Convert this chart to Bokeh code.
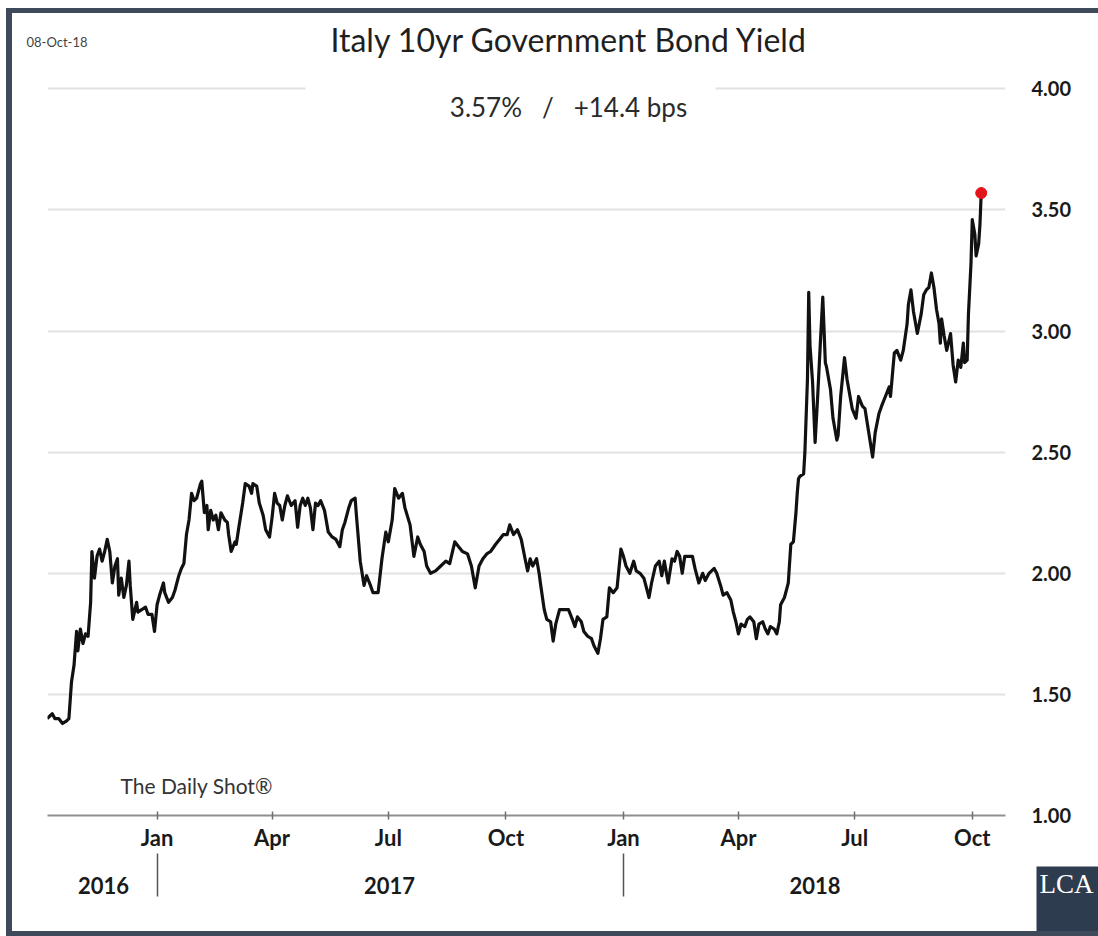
import pandas as pd
from bokeh.plotting import figure
from bokeh.models import (Range1d, FixedTicker, DatetimeAxis, DatetimeTickFormatter,
                          PrintfTickFormatter, Label, BoxAnnotation, ColumnDataSource, Title,
                          InlineStyleSheet)
from bokeh.embed import file_html
from bokeh.resources import INLINE

# ---------------- data ----------------
dates = [
    "2016-10-07", "2016-10-11", "2016-10-13", "2016-10-16", "2016-10-19", "2016-10-22", "2016-10-24", "2016-10-26", "2016-10-28", "2016-10-30", "2016-10-31",
    "2016-11-02", "2016-11-04", "2016-11-06", "2016-11-08", "2016-11-10", "2016-11-11", "2016-11-13", "2016-11-15", "2016-11-17", "2016-11-19", "2016-11-21", "2016-11-23", "2016-11-25", "2016-11-27", "2016-11-29",
    "2016-12-01", "2016-12-02", "2016-12-04", "2016-12-06", "2016-12-08", "2016-12-10", "2016-12-11", "2016-12-13", "2016-12-16", "2016-12-17", "2016-12-20", "2016-12-23", "2016-12-25", "2016-12-28", "2016-12-30",
    "2017-01-01", "2017-01-03", "2017-01-06", "2017-01-07", "2017-01-10", "2017-01-13", "2017-01-15", "2017-01-18", "2017-01-20", "2017-01-22", "2017-01-24", "2017-01-26", "2017-01-28", "2017-01-30",
    "2017-02-01", "2017-02-04", "2017-02-05", "2017-02-07", "2017-02-09", "2017-02-10", "2017-02-12", "2017-02-14", "2017-02-16", "2017-02-18", "2017-02-20", "2017-02-23", "2017-02-25", "2017-02-26", "2017-02-28",
    "2017-03-03", "2017-03-04", "2017-03-06", "2017-03-09", "2017-03-11", "2017-03-14", "2017-03-16", "2017-03-17", "2017-03-20", "2017-03-22", "2017-03-25", "2017-03-27", "2017-03-30",
    "2017-04-01", "2017-04-03", "2017-04-05", "2017-04-07", "2017-04-09", "2017-04-11", "2017-04-13", "2017-04-16", "2017-04-19", "2017-04-21", "2017-04-23", "2017-04-25", "2017-04-27", "2017-04-29",
    "2017-05-01", "2017-05-03", "2017-05-05", "2017-05-07", "2017-05-09", "2017-05-12", "2017-05-15", "2017-05-18", "2017-05-21", "2017-05-24", "2017-05-26", "2017-05-28", "2017-05-31",
    "2017-06-02", "2017-06-05", "2017-06-06", "2017-06-09", "2017-06-12", "2017-06-14", "2017-06-17", "2017-06-19", "2017-06-23", "2017-06-26", "2017-06-29",
    "2017-07-01", "2017-07-04", "2017-07-06", "2017-07-09", "2017-07-12", "2017-07-14", "2017-07-18", "2017-07-21", "2017-07-24", "2017-07-26", "2017-07-29", "2017-07-31",
    "2017-08-03", "2017-08-07", "2017-08-11", "2017-08-15", "2017-08-18", "2017-08-22", "2017-08-25", "2017-08-28",
    "2017-09-01", "2017-09-04", "2017-09-07", "2017-09-10", "2017-09-13", "2017-09-16", "2017-09-19", "2017-09-23", "2017-09-26", "2017-09-29",
    "2017-10-02", "2017-10-04", "2017-10-07", "2017-10-10", "2017-10-13", "2017-10-16", "2017-10-18", "2017-10-20", "2017-10-22", "2017-10-25", "2017-10-27", "2017-10-28", "2017-10-31",
    "2017-11-02", "2017-11-05", "2017-11-07", "2017-11-09", "2017-11-12", "2017-11-15", "2017-11-19", "2017-11-22", "2017-11-24", "2017-11-26", "2017-11-29",
    "2017-12-01", "2017-12-04", "2017-12-07", "2017-12-09", "2017-12-12", "2017-12-14", "2017-12-16", "2017-12-19", "2017-12-21", "2017-12-24", "2017-12-27", "2017-12-30",
    "2018-01-01", "2018-01-03", "2018-01-06", "2018-01-09", "2018-01-11", "2018-01-14", "2018-01-17", "2018-01-21", "2018-01-23", "2018-01-26", "2018-01-29", "2018-01-31",
    "2018-02-02", "2018-02-05", "2018-02-08", "2018-02-10", "2018-02-12", "2018-02-14", "2018-02-16", "2018-02-18", "2018-02-21", "2018-02-24", "2018-02-26",
    "2018-03-01", "2018-03-04", "2018-03-06", "2018-03-09", "2018-03-13", "2018-03-15", "2018-03-18", "2018-03-20", "2018-03-23", "2018-03-26", "2018-03-28", "2018-03-30",
    "2018-04-01", "2018-04-03", "2018-04-06", "2018-04-08", "2018-04-10", "2018-04-13", "2018-04-15", "2018-04-17", "2018-04-20", "2018-04-22", "2018-04-24", "2018-04-26", "2018-04-29",
    "2018-05-01", "2018-05-03", "2018-05-04", "2018-05-07", "2018-05-09", "2018-05-10", "2018-05-12", "2018-05-14", "2018-05-16", "2018-05-17", "2018-05-18", "2018-05-19", "2018-05-22", "2018-05-23", "2018-05-25", "2018-05-26", "2018-05-27", "2018-05-29", "2018-05-31",
    "2018-06-02", "2018-06-04", "2018-06-06", "2018-06-08", "2018-06-09", "2018-06-12", "2018-06-14", "2018-06-17", "2018-06-18", "2018-06-20", "2018-06-23", "2018-06-25", "2018-06-29",
    "2018-07-02", "2018-07-04", "2018-07-07", "2018-07-09", "2018-07-12", "2018-07-15", "2018-07-17", "2018-07-20", "2018-07-22", "2018-07-25", "2018-07-28", "2018-07-29",
    "2018-08-01", "2018-08-03", "2018-08-06", "2018-08-08", "2018-08-11", "2018-08-12", "2018-08-14", "2018-08-16", "2018-08-19", "2018-08-22", "2018-08-24", "2018-08-26", "2018-08-28", "2018-08-30",
    "2018-09-01", "2018-09-03", "2018-09-05", "2018-09-06", "2018-09-07", "2018-09-09", "2018-09-11", "2018-09-14", "2018-09-16", "2018-09-18", "2018-09-20", "2018-09-22", "2018-09-24", "2018-09-25", "2018-09-27", "2018-09-28", "2018-09-30",
    "2018-10-01", "2018-10-03", "2018-10-04", "2018-10-06", "2018-10-07", "2018-10-08",
]

yields = [
    1.40, 1.42, 1.40, 1.40, 1.38, 1.39, 1.40, 1.55, 1.62, 1.76, 1.68,
    1.77, 1.71, 1.75, 1.74, 1.88, 2.09, 1.98, 2.07, 2.10, 2.05, 2.09, 2.14, 2.09, 1.96, 2.03,
    2.06, 1.91, 1.98, 1.90, 1.95, 2.05, 1.95, 1.81, 1.88, 1.84, 1.85, 1.86, 1.83, 1.83, 1.76,
    1.87, 1.91, 1.96, 1.92, 1.88, 1.90, 1.93, 1.99, 2.02, 2.04, 2.16, 2.22, 2.33, 2.30,
    2.31, 2.37, 2.38, 2.25, 2.28, 2.18, 2.26, 2.22, 2.24, 2.18, 2.25, 2.22, 2.21, 2.16, 2.09,
    2.13, 2.12, 2.19, 2.29, 2.37, 2.36, 2.33, 2.37, 2.36, 2.29, 2.24, 2.18, 2.15,
    2.23, 2.33, 2.29, 2.28, 2.22, 2.28, 2.32, 2.28, 2.30, 2.19, 2.28, 2.31, 2.28, 2.31,
    2.27, 2.18, 2.29, 2.28, 2.30, 2.26, 2.17, 2.15, 2.14, 2.11, 2.18, 2.21, 2.27,
    2.30, 2.31, 2.24, 2.05, 1.95, 1.99, 1.95, 1.92, 1.92, 2.06, 2.17,
    2.13, 2.22, 2.35, 2.31, 2.33, 2.27, 2.20, 2.07, 2.15, 2.12, 2.09, 2.03,
    2.00, 2.01, 2.03, 2.05, 2.04, 2.13, 2.11, 2.09,
    2.08, 2.03, 1.94, 2.03, 2.06, 2.08, 2.09, 2.12, 2.14, 2.16,
    2.16, 2.20, 2.16, 2.18, 2.14, 2.06, 2.01, 2.06, 2.03, 2.06, 2.00, 1.96, 1.85,
    1.81, 1.80, 1.72, 1.79, 1.85, 1.85, 1.85, 1.81, 1.78, 1.82, 1.80,
    1.76, 1.74, 1.73, 1.70, 1.67, 1.73, 1.81, 1.82, 1.94, 1.92, 1.94, 2.10,
    2.07, 2.03, 2.00, 2.05, 2.01, 2.00, 1.98, 1.90, 1.96, 2.03, 2.05, 1.99,
    2.05, 1.96, 2.06, 2.05, 2.09, 2.07, 2.00, 2.07, 2.07, 2.07, 2.02,
    1.96, 2.00, 1.97, 2.00, 2.02, 2.00, 1.95, 1.91, 1.92, 1.89, 1.84, 1.80,
    1.75, 1.79, 1.78, 1.81, 1.82, 1.80, 1.73, 1.79, 1.80, 1.77, 1.75, 1.78, 1.77,
    1.75, 1.80, 1.87, 1.90, 1.94, 1.96, 2.12, 2.13, 2.25, 2.33, 2.39, 2.40, 2.41, 2.50, 2.80, 3.16, 2.94, 2.79, 2.54,
    2.73, 2.94, 3.14, 2.87, 2.85, 2.76, 2.64, 2.55, 2.57, 2.73, 2.89, 2.80, 2.68,
    2.64, 2.73, 2.69, 2.68, 2.58, 2.48, 2.58, 2.66, 2.69, 2.73, 2.77, 2.73,
    2.91, 2.92, 2.88, 2.92, 3.03, 3.11, 3.17, 3.08, 2.99, 3.07, 3.15, 3.17, 3.18, 3.24,
    3.18, 3.09, 3.03, 2.95, 3.05, 2.98, 2.92, 2.99, 2.86, 2.79, 2.88, 2.85, 2.95, 2.87, 2.88, 3.07, 3.28,
    3.46, 3.40, 3.31, 3.36, 3.44, 3.57,
]
assert len(dates) == len(yields), (len(dates), len(yields))

change_bps = 14.4
as_of = "08-Oct-18"
title_text = "Italy 10yr Government Bond Yield"
source_text = "The Daily Shot®"
logo_text = "LCA"
y_ticks = [1.00, 1.50, 2.00, 2.50, 3.00, 3.50, 4.00]
quarter_ticks = ["2017-01-01", "2017-04-01", "2017-07-01", "2017-10-01",
                 "2018-01-01", "2018-04-01", "2018-07-01", "2018-10-01"]
year_label_dates = ["2016-11-20", "2017-07-02", "2018-05-31"]
year_breaks = ["2017-01-01", "2018-01-01"]
x_start, x_end = "2016-10-07 06:00", "2018-10-27"


def ms(d):
    return pd.Timestamp(d).timestamp() * 1000.0


src = ColumnDataSource(dict(date=pd.to_datetime(dates), yld=yields))

FONT = "Lato"
NB = "\u00a0"

frame_css = InlineStyleSheet(css="""
:host { position: relative; }
:host::after {
  content: "";
  position: absolute;
  left: 6px; top: 8px; right: 0px; bottom: 0px;
  box-sizing: border-box;
  border-top: 5px solid #3e4959;
  border-left: 6px solid #3e4959;
  border-bottom: 5px solid #3e4959;
  pointer-events: none;
  z-index: 100;
}
""")

p = figure(width=1098, height=936, output_backend="svg", toolbar_location=None,
           x_axis_type=None, y_axis_location="right",
           x_range=Range1d(ms(x_start), ms(x_end)),
           y_range=Range1d(1.0, 4.08),
           min_border_left=47, min_border_right=93,
           min_border_top=69, min_border_bottom=121,
           stylesheets=[frame_css])
p.outline_line_color = None
p.background_fill_color = "white"
p.border_fill_color = "white"
p.title.visible = False

# right y axis
yax = p.yaxis[0]
yax.ticker = FixedTicker(ticks=y_ticks)
yax.formatter = PrintfTickFormatter(format="%.2f")
yax.axis_line_color = None
yax.major_tick_line_color = None
yax.minor_tick_line_color = None
yax.major_label_standoff = 20
yax.major_label_text_font = FONT
yax.major_label_text_font_style = "bold"
yax.major_label_text_font_size = "20px"
yax.major_label_text_color = "#1a1a1a"

p.ygrid[0].ticker = FixedTicker(ticks=[t for t in y_ticks if t > y_ticks[0]])
p.ygrid[0].grid_line_color = "#e2e2e2"
p.ygrid[0].grid_line_width = 2

fmt_month = dict(microseconds="%b", milliseconds="%b", seconds="%b", minsec="%b",
                 minutes="%b", hourmin="%b", hours="%b", days="%b", months="%b", years="%b")
fmt_year = {k: "%Y" for k in fmt_month}

# month axis
mx = DatetimeAxis(ticker=FixedTicker(ticks=[ms(d) for d in quarter_ticks]),
                  formatter=DatetimeTickFormatter(**fmt_month))
mx.axis_line_color = "#8f8f8f"
mx.axis_line_width = 2
mx.major_tick_in = 4
mx.major_tick_out = 4
mx.major_tick_line_color = "#6f6f6f"
mx.major_tick_line_width = 1.5
mx.minor_tick_line_color = None
mx.major_label_standoff = 4
mx.major_label_text_font = FONT
mx.major_label_text_font_style = "bold"
mx.major_label_text_font_size = "22px"
mx.major_label_text_color = "#1a1a1a"
p.add_layout(mx, "below")

# year axis (labels centred in each year's span, separators at Jan 1)
yr = DatetimeAxis(ticker=FixedTicker(ticks=[ms(d) for d in year_label_dates],
                                     minor_ticks=[ms(d) for d in year_breaks]),
                  formatter=DatetimeTickFormatter(**fmt_year))
yr.axis_line_color = None
yr.major_tick_line_color = None
yr.major_tick_in = 0
yr.major_tick_out = 0
yr.minor_tick_in = 0
yr.minor_tick_out = 43
yr.minor_tick_line_color = "#555555"
yr.minor_tick_line_width = 1.5
yr.major_label_standoff = -20
yr.major_label_text_font = FONT
yr.major_label_text_font_style = "bold"
yr.major_label_text_font_size = "22px"
yr.major_label_text_color = "#1a1a1a"
p.add_layout(yr, "below")

# logo (below panel, to the right of the frame)
p.add_layout(Title(text=logo_text, align="left", offset=989, vertical_align="top",
                   standoff=-60, text_font="Liberation Serif", text_font_size="27px",
                   text_font_style="normal", text_color="white",
                   background_fill_color="#2e3c50",
                   padding=dict(left=3, right=30, top=2, bottom=40)), "below")

# titles (above panel)
p.add_layout(Title(text=title_text, align="left", offset=283, standoff=22,
                   text_font=FONT, text_font_size="32px", text_font_style="normal",
                   text_color="#1f1f1f"), "above")
p.add_layout(Title(text=as_of, align="left", offset=-21, standoff=-86,
                   text_font=FONT, text_font_size="13px", text_font_style="normal",
                   text_color="#444444"), "above")

# series
p.line("date", "yld", source=src, line_color="#111111", line_width=3.2, line_join="round")
p.scatter(x=[pd.Timestamp(dates[-1])], y=[yields[-1]], size=11, color="#e3151b")

# texts inside the frame (screen units relative to the plot frame)
p.add_layout(BoxAnnotation(left=258, right=668, bottom=690, top=740,
                           left_units="screen", right_units="screen",
                           bottom_units="screen", top_units="screen",
                           fill_color="white", fill_alpha=1, line_color=None))
p.add_layout(Label(x=521, y=709, x_units="screen", y_units="screen",
                   text=f"{yields[-1]:.2f}%{NB}{NB}{NB}/{NB}{NB}{NB}+{change_bps} bps",
                   text_align="center", text_baseline="middle",
                   text_font=FONT, text_font_size="26px", text_color="#2b2b2b"))
p.add_layout(Label(x=73, y=30, x_units="screen", y_units="screen",
                   text=source_text, text_align="left", text_baseline="middle",
                   text_font=FONT, text_font_size="21px", text_color="#333333"))

open("out.html", "w").write(file_html(p, INLINE))
